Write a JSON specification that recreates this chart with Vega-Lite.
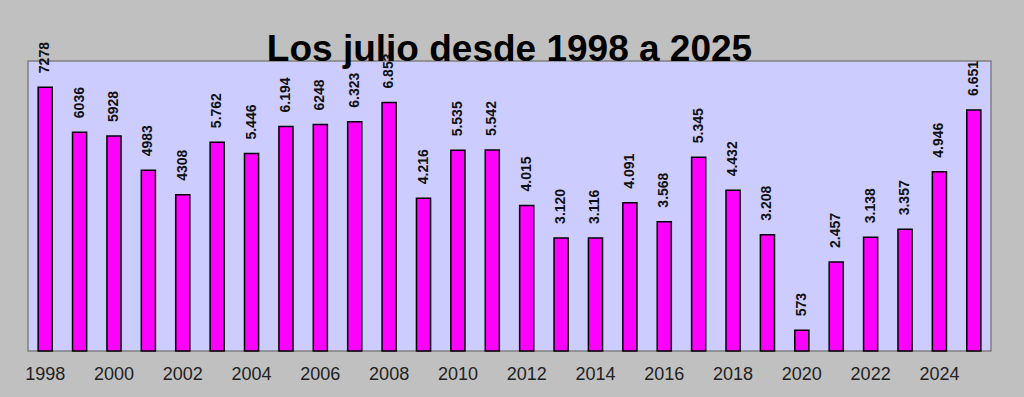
{
  "$schema": "https://vega.github.io/schema/vega-lite/v6.json",
  "width": 963,
  "height": 290,
  "autosize": {"type": "none"},
  "padding": {"left": 28, "top": 61, "right": 33, "bottom": 46},
  "background": "#C0C0C0",
  "config": {
    "view": {"fill": "#CCCCFF", "stroke": "#808080", "strokeWidth": 1.5},
    "font": "Liberation Sans"
  },
  "title": {
    "text": "Los julio desde 1998 a 2025",
    "font": "Liberation Sans",
    "fontSize": 37,
    "fontWeight": "bold",
    "color": "#000000",
    "anchor": "middle",
    "frame": "group",
    "baseline": "alphabetic",
    "offset": 0,
    "dy": 56
  },
  "data": {
    "values": [
      {"year": 1998, "value": 7278, "label": "7278"},
      {"year": 1999, "value": 6036, "label": "6036"},
      {"year": 2000, "value": 5928, "label": "5928"},
      {"year": 2001, "value": 4983, "label": "4983"},
      {"year": 2002, "value": 4308, "label": "4308"},
      {"year": 2003, "value": 5762, "label": "5.762"},
      {"year": 2004, "value": 5446, "label": "5.446"},
      {"year": 2005, "value": 6194, "label": "6.194"},
      {"year": 2006, "value": 6248, "label": "6248"},
      {"year": 2007, "value": 6323, "label": "6.323"},
      {"year": 2008, "value": 6853, "label": "6.853"},
      {"year": 2009, "value": 4216, "label": "4.216"},
      {"year": 2010, "value": 5535, "label": "5.535"},
      {"year": 2011, "value": 5542, "label": "5.542"},
      {"year": 2012, "value": 4015, "label": "4.015"},
      {"year": 2013, "value": 3120, "label": "3.120"},
      {"year": 2014, "value": 3116, "label": "3.116"},
      {"year": 2015, "value": 4091, "label": "4.091"},
      {"year": 2016, "value": 3568, "label": "3.568"},
      {"year": 2017, "value": 5345, "label": "5.345"},
      {"year": 2018, "value": 4432, "label": "4.432"},
      {"year": 2019, "value": 3208, "label": "3.208"},
      {"year": 2020, "value": 573, "label": "573"},
      {"year": 2021, "value": 2457, "label": "2.457"},
      {"year": 2022, "value": 3138, "label": "3.138"},
      {"year": 2023, "value": 3357, "label": "3.357"},
      {"year": 2024, "value": 4946, "label": "4.946"},
      {"year": 2025, "value": 6651, "label": "6.651"}
    ]
  },
  "encoding": {
    "x": {
      "field": "year",
      "type": "ordinal",
      "scale": {"paddingInner": 0.59, "paddingOuter": 0.295},
      "axis": {
        "title": null,
        "values": [1998, 2000, 2002, 2004, 2006, 2008, 2010, 2012, 2014, 2016, 2018, 2020, 2022, 2024],
        "labelAngle": 0,
        "labelFontSize": 18,
        "labelFont": "Liberation Sans",
        "labelColor": "#222222",
        "labelPadding": 14,
        "ticks": false,
        "domain": false
      }
    },
    "y": {
      "field": "value",
      "type": "quantitative",
      "scale": {"domain": [0, 8000], "nice": false},
      "axis": null
    }
  },
  "layer": [
    {
      "mark": {"type": "bar", "fill": "#FF00FF", "stroke": "#000000", "strokeWidth": 1.5}
    },
    {
      "mark": {
        "type": "text",
        "angle": 270,
        "align": "left",
        "baseline": "middle",
        "dx": 14,
        "fontSize": 14,
        "fontWeight": "bold",
        "color": "#111111"
      },
      "encoding": {"text": {"field": "label"}}
    }
  ]
}
